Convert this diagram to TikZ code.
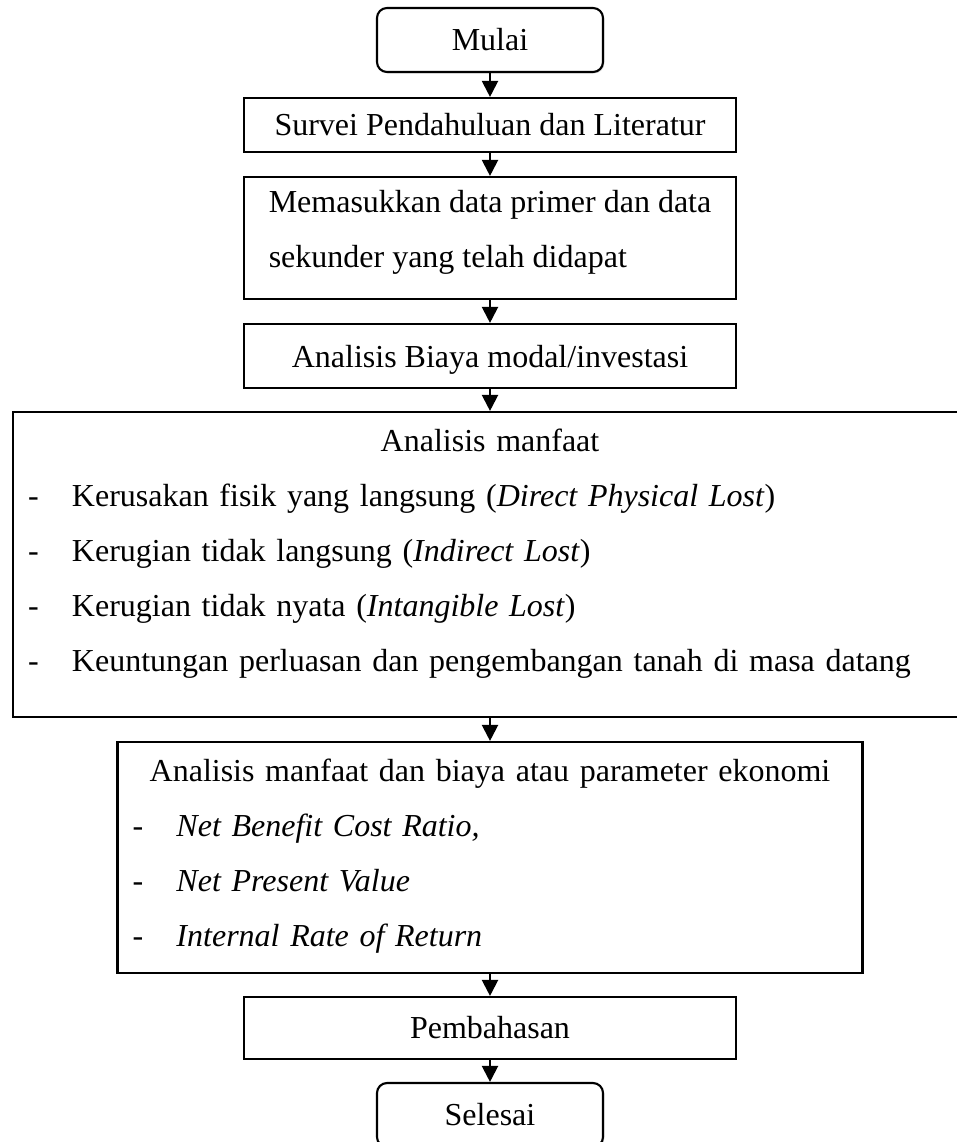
\documentclass[tikz,border=0pt]{standalone}
\usepackage{fontspec}
\setmainfont{Liberation Serif}
\usepackage{tikz}
\usetikzlibrary{arrows.meta,shadows}
\newlength{\unitpx}
\setlength{\unitpx}{0.375pt}
\newcommand{\dashitem}[1]{\hspace*{15\unitpx}\makebox[44\unitpx][l]{-}#1}
\newcommand{\botpad}[1]{\rule[-#1\unitpx]{0pt}{#1\unitpx}}

\begin{document}
\begin{tikzpicture}[x=\unitpx,y=-\unitpx,
  font=\fontsize{12}{20.6}\selectfont,
  terminal/.style={draw,thick,fill=white,rounded corners=10\unitpx,minimum width=226\unitpx,minimum height=64\unitpx,
    drop shadow={shadow xshift=0.5pt,shadow yshift=-0.5pt,opacity=0.3}},
  stepbox/.style={draw,thick,minimum width=492\unitpx,inner sep=0pt},
  listbox/.style={draw,thick,inner sep=0pt,align=left},
  flow/.style={-{Triangle[length=6pt,width=6pt]},thick},
]
\useasboundingbox (0,0) rectangle (957,1142);
\clip (0,0) rectangle (957,1142);

\node[terminal] (mulai) at (490,40) {Mulai};
\node[stepbox,minimum height=54\unitpx] (survei) at (490,125) {Survei Pendahuluan dan Literatur};
\node[stepbox,minimum height=122\unitpx,align=left] (data) at (490,238)
  {Memasukkan data primer dan data\\sekunder yang telah didapat\botpad{18}};
\node[stepbox,minimum height=64\unitpx,text depth=0pt] (biaya) at (490,356) {Analisis Biaya modal/investasi};

% kotak manfaat (lebar, terpotong di kanan)
\node[listbox,text width=954\unitpx,minimum height=305\unitpx] (manfaat) at (490,564.5) {%
  \makebox[\linewidth]{Analisis manfaat}\\
  \dashitem{Kerusakan fisik yang langsung (\textit{Direct Physical Lost})}\\
  \dashitem{Kerugian tidak langsung (\textit{Indirect Lost})}\\
  \dashitem{Kerugian tidak nyata (\textit{Intangible Lost})}\\
  \dashitem{Keuntungan perluasan dan pengembangan tanah di masa datang}\botpad{28}};

\node[listbox,text width=745\unitpx,minimum height=231\unitpx] (ekonomi) at (490,857.5) {%
  \makebox[\linewidth]{Analisis manfaat dan biaya atau parameter ekonomi}\\
  \dashitem{\textit{Net Benefit Cost Ratio,}}\\
  \dashitem{\textit{Net Present Value}}\\
  \dashitem{\textit{Internal Rate of Return}}\botpad{9}};

\node[stepbox,minimum height=62\unitpx] (bahas) at (490,1028) {Pembahasan};
\node[terminal] (selesai) at (490,1115) {Selesai};

\draw[flow] (mulai) -- (survei);
\draw[flow] (survei) -- (data);
\draw[flow] (data) -- (biaya);
\draw[flow] (biaya) -- (manfaat);
\draw[flow] (manfaat) -- (ekonomi);
\draw[flow] (ekonomi) -- (bahas);
\draw[flow] (bahas) -- (selesai);
\end{tikzpicture}
\end{document}
